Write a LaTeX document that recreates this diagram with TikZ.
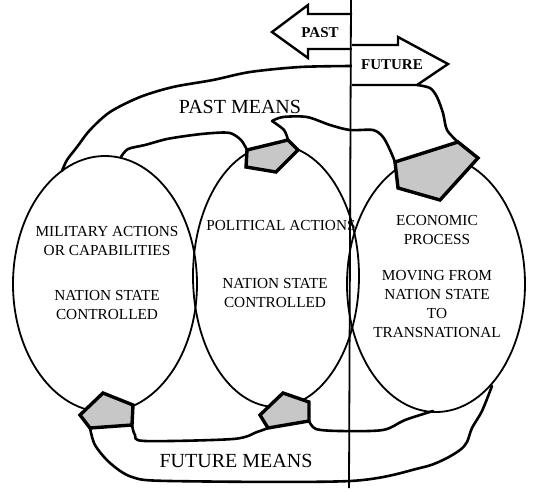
\documentclass[tikz,border=0pt]{standalone}
\usepackage{fontspec}
\setmainfont{Liberation Serif}
\usetikzlibrary{shapes.geometric}

\begin{document}
\begin{tikzpicture}[x=1pt,y=-1pt,
    sphere/.style={draw,ellipse,line width=1.8pt,inner sep=0pt},
    flow/.style={line width=2.6pt,line join=round,line cap=round},
    headbox/.style={draw,line width=3.4pt,fill=black!22,line join=miter},
    timearrow/.style={draw,line width=2.4pt,fill=white,line join=miter},
    lbl/.style={font=\fontsize{15.3}{19}\selectfont,align=center,inner sep=0pt},
    means/.style={font=\fontsize{20}{24}\selectfont,inner sep=0pt},
    tense/.style={font=\bfseries\fontsize{15}{18}\selectfont,inner sep=0pt}]
                \useasboundingbox (0,0) rectangle (539,491);

                \node[sphere,minimum width=184pt,minimum height=256pt] (mil) at (105,284) {};
                \node[sphere,minimum width=166pt,minimum height=262pt] (pol) at (276,276) {};
                \node[sphere,minimum width=178pt,minimum height=256pt] (eco) at (436,284) {};

                \node[lbl] (miltop) at (107,241) {MILITARY ACTIONS\\OR CAPABILITIES};
                \node[lbl] (milctl) at (107,305) {NATION STATE\\CONTROLLED};
                \node[lbl] (poltop) at (281,226) {POLITICAL ACTIONS};
                \node[lbl] (polctl) at (275,293) {NATION STATE\\CONTROLLED};
                \node[lbl] (ecotop) at (437,230) {ECONOMIC\\PROCESS};
                \node[lbl] (ecomove) at (437,304) {MOVING FROM\\NATION STATE\\TO\\TRANSNATIONAL};
                \node[means] (pastmeans) at (240,107) {PAST MEANS};
                \node[means] (futmeans) at (236,461) {FUTURE MEANS};

                \coordinate (ttop) at (351,0);
                \coordinate (tbot) at (349,488);
                \coordinate (milout) at (62,171);
                \coordinate (milin) at (121,157);
                \coordinate (pastend) at (352,66);
                \coordinate (futstart) at (417,85);
                \coordinate (hook) at (272,121);
                \coordinate (ptl) at (247,150);
                \coordinate (ptr) at (288,140);
                \coordinate (etl) at (395,162);
                \coordinate (etr) at (458,142);
                \coordinate (mbr) at (132,425);
                \coordinate (mbl) at (90,428);
                \coordinate (pbr) at (309,421);
                \coordinate (pbl) at (268,428);
                \coordinate (ecoout) at (492,386);
                \coordinate (ecoin) at (433,411);

                \draw[flow] plot[smooth] coordinates {(milout) (67,160) (77,147) (90,130) (110,112) (140,97) (173,87) (213,80) (250,72) (300,67) (pastend)};
                \draw[flow] plot[smooth] coordinates {(milin) (128,149) (145,145) (167,139) (193,135) (213,133) (230,133) (241,140) (ptl)};
                \draw[flow] plot[smooth] coordinates {(ptr) (284,130) (hook)};
                \draw[flow] plot[smooth] coordinates {(hook) (283,117) (307,117) (330,125) (350,130) (373,130) (383,137) (390,150) (etl)};
                \draw[flow] plot[smooth] coordinates {(futstart) (430,88) (437,97) (443,113) (447,130) (etr)};
                \draw[flow] plot[smooth] coordinates {(mbl) (95,445) (110,463) (132,477) (170,481) (350,481) (420,468) (443,460) (460,450) (467,442) (472,428) (482,411) (ecoout)};
                \draw[flow] plot[smooth] coordinates {(mbr) (135,435) (145,441) (233,439) (257,432) (pbl)};
                \draw[flow] plot[smooth] coordinates {(pbr) (316,429) (340,431) (383,430) (405,420) (ecoin)};

                \draw[headbox] (ptl) -- (ptr) -- (298,150) -- (276,172) -- (246,167) -- cycle;
                \draw[headbox] (etl) -- (etr) -- (478,158) -- (440,200) -- (398,188) -- cycle;
                \draw[headbox] (80,415) -- (103,393) -- (133,405) -- (mbr) -- (mbl) -- cycle;
                \draw[headbox] (260,415) -- (283,393) -- (309,402) -- (pbr) -- (pbl) -- cycle;

                \draw[timearrow] (352,14) -- (308,14) -- (308,5) -- (272,32) -- (308,58) -- (308,49) -- (352,49);
                \draw[timearrow] (352,45) -- (398,45) -- (398,37) -- (448,64) -- (futstart) -- (352,85);
                \node[tense] (past) at (320,33) {PAST};
                \node[tense] (future) at (392,65) {FUTURE};

                \draw[line width=1.8pt] (ttop) -- (tbot);
            \end{tikzpicture}
\end{document}
